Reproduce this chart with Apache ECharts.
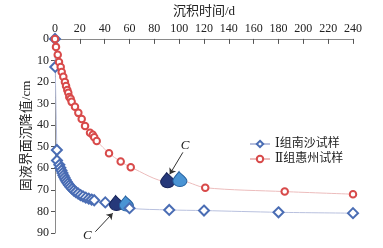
<!DOCTYPE html>
<html>
<head>
<meta charset="utf-8">
<script src="https://cdn.jsdelivr.net/npm/echarts@6/dist/echarts.min.js"></script>
<style>
html,body{margin:0;padding:0;background:#fff;}
#c{width:383px;height:248px;}
</style>
</head>
<body>
<div id="c"></div>
<script>
// ---- data ----
var xTicks = [0, 20, 40, 60, 80, 100, 120, 140, 160, 180, 200, 220, 240];
var yTicks = [0, 10, 20, 30, 40, 50, 60, 70, 80, 90];
var seriesNames = ['Ⅰ组南沙试样', 'Ⅱ组惠州试样'];

// Group I (Nansha): time (d), settlement (cm)
var nanshaTime = [0, 0.2, 1.5, 1.6, 3.5, 4.3, 5.2, 6.0, 6.8, 7.6, 8.5, 9.4, 10.4, 11.4, 12.5, 13.8, 15.2, 16.8, 18.6, 20.5, 22.6, 24.8, 27.2, 29.5, 31.6, 40.5, 49.5, 57.5, 60, 92, 120, 180, 240];
var nanshaSettle = [0, 13, 51.5, 56.4, 58.4, 59.8, 61.0, 62.2, 63.3, 64.3, 65.3, 66.2, 67.1, 67.9, 68.7, 69.5, 70.3, 71.0, 71.7, 72.4, 73.0, 73.6, 74.1, 74.5, 74.8, 75.8, 76.8, 77.0, 78.5, 79.3, 79.6, 80.4, 80.8];
var nanshaC = [26, 27]; // indexes of the critical points C (dark, light)

// Group II (Huizhou)
var huizhouTime = [0, 0.8, 2.2, 3.2, 4.6, 5.4, 6.7, 8.0, 8.9, 9.9, 10.7, 11.5, 12.6, 13.4, 16.1, 18.8, 21.5, 24.2, 28.2, 30.4, 31.6, 33.6, 43.5, 52.9, 61, 90.7, 100.6, 121, 185, 240];
var huizhouSettle = [0, 3.7, 7.4, 10.7, 13, 15.3, 17.6, 20, 21.8, 23.7, 25, 26.9, 27.8, 29.2, 31.5, 34.3, 37.1, 40.4, 43.5, 44.5, 45.6, 47.3, 53, 56.9, 59.5, 66.2, 65.7, 69, 70.8, 72];
var huizhouC = [25, 26];

// annotation arrows: [from, to] in data coords, and "C" label positions
var arrowTop = [[103, 52.6], [92.4, 62.8]];
var arrowBottom = [[32.5, 89.4], [46.5, 80.8]];
var labelTop = [104.8, 49.5];
var labelBottom = [26, 90];

// ---- chart ----
var serif = '"Liberation Serif", "DejaVu Serif", "Noto Sans CJK SC", serif';
var dark = {color: '#26397a', borderColor: '#16245a', borderWidth: 1};
var light = {color: '#4a94d4', borderColor: '#25609e', borderWidth: 1};
var drop = 'path://M9,0 C10,3 18,8 18,13 A8,8 0 1 1 2,13 C2,9 6,5 9,0 Z';

function buildData(xs, ys, cIdx) {
  return xs.map(function (x, i) {
    var item = {value: [x, ys[i]]};
    var k = cIdx.indexOf(i);
    if (k >= 0) {
      item.symbol = drop;
      item.symbolSize = [14, 15];
      item.symbolOffset = [0, -1.5];
      item.symbolKeepAspect = false;
      item.itemStyle = k === 0 ? dark : light;
      item.z = 5;
    }
    return item;
  });
}

var chart = echarts.init(document.getElementById('c'), null, {renderer: 'canvas'});
chart.setOption({
  animation: false,
  textStyle: {fontFamily: serif},
  grid: {left: 55, right: 30, top: 38, bottom: 15, containLabel: false},
  legend: {
    orient: 'vertical',
    left: 244,
    top: 133,
    itemWidth: 20,
    itemHeight: 8,
    itemGap: 3,
    textStyle: {fontFamily: serif, fontSize: 12, color: '#222'},
    data: seriesNames
  },
  xAxis: {
    type: 'value',
    position: 'top',
    min: 0, max: 240, interval: 20,
    name: '沉积时间/d',
    nameLocation: 'middle',
    nameGap: 17,
    nameTextStyle: {fontFamily: serif, fontSize: 13, color: '#222'},
    axisLine: {show: true, lineStyle: {color: '#8a8a8a', width: 1}},
    axisTick: {show: true, inside: true, length: 5, lineStyle: {color: '#555'}},
    axisLabel: {fontFamily: serif, fontSize: 12, color: '#222', margin: 4,
      formatter: function (v) { return xTicks.indexOf(v) >= 0 ? String(v) : ''; }},
    splitLine: {show: false}
  },
  yAxis: {
    type: 'value',
    inverse: true,
    min: 0, max: 90, interval: 10,
    name: '固液界面沉降值/cm',
    nameLocation: 'middle',
    nameGap: 22,
    nameMoveOverlap: false,
    nameTextStyle: {fontFamily: serif, fontSize: 13, color: '#222'},
    axisLine: {show: true, lineStyle: {color: '#8a8a8a', width: 1}},
    axisTick: {show: true, inside: false, length: 4, lineStyle: {color: '#555'}},
    axisLabel: {fontFamily: serif, fontSize: 12, color: '#222', margin: 6,
      formatter: function (v) { return yTicks.indexOf(v) >= 0 ? String(v) : ''; }},
    splitLine: {show: false}
  },
  series: [
    {
      name: seriesNames[0],
      type: 'line',
      smooth: 0.3,
      symbol: 'emptyDiamond',
      symbolSize: 10,
      clip: false,
      lineStyle: {color: '#b8c0de', width: 1},
      itemStyle: {color: '#4a6db4', borderColor: '#4a6db4', borderWidth: 1},
      data: buildData(nanshaTime, nanshaSettle, nanshaC),
      markLine: {
        silent: true,
        symbol: ['none', 'arrow'],
        symbolSize: 6,
        label: {show: false},
        lineStyle: {color: '#333', width: 1, type: 'solid'},
        data: [
          [{coord: arrowTop[0]}, {coord: arrowTop[1]}],
          [{coord: arrowBottom[0]}, {coord: arrowBottom[1]}]
        ]
      },
      markPoint: {
        silent: true,
        symbol: 'circle',
        symbolSize: 1,
        itemStyle: {color: 'rgba(0,0,0,0)'},
        label: {show: true, formatter: 'C', position: 'inside', fontFamily: serif,
          fontStyle: 'italic', fontSize: 13, color: '#222'},
        data: [{coord: labelTop}, {coord: labelBottom, label: {offset: [0, 3]}}]
      }
    },
    {
      name: seriesNames[1],
      type: 'line',
      smooth: 0.3,
      symbol: 'emptyCircle',
      symbolSize: 6.5,
      clip: false,
      lineStyle: {color: '#ecbcbc', width: 1},
      itemStyle: {color: '#d84a4a', borderColor: '#d84a4a', borderWidth: 0.9},
      data: buildData(huizhouTime, huizhouSettle, huizhouC)
    }
  ]
});
</script>
</body>
</html>
